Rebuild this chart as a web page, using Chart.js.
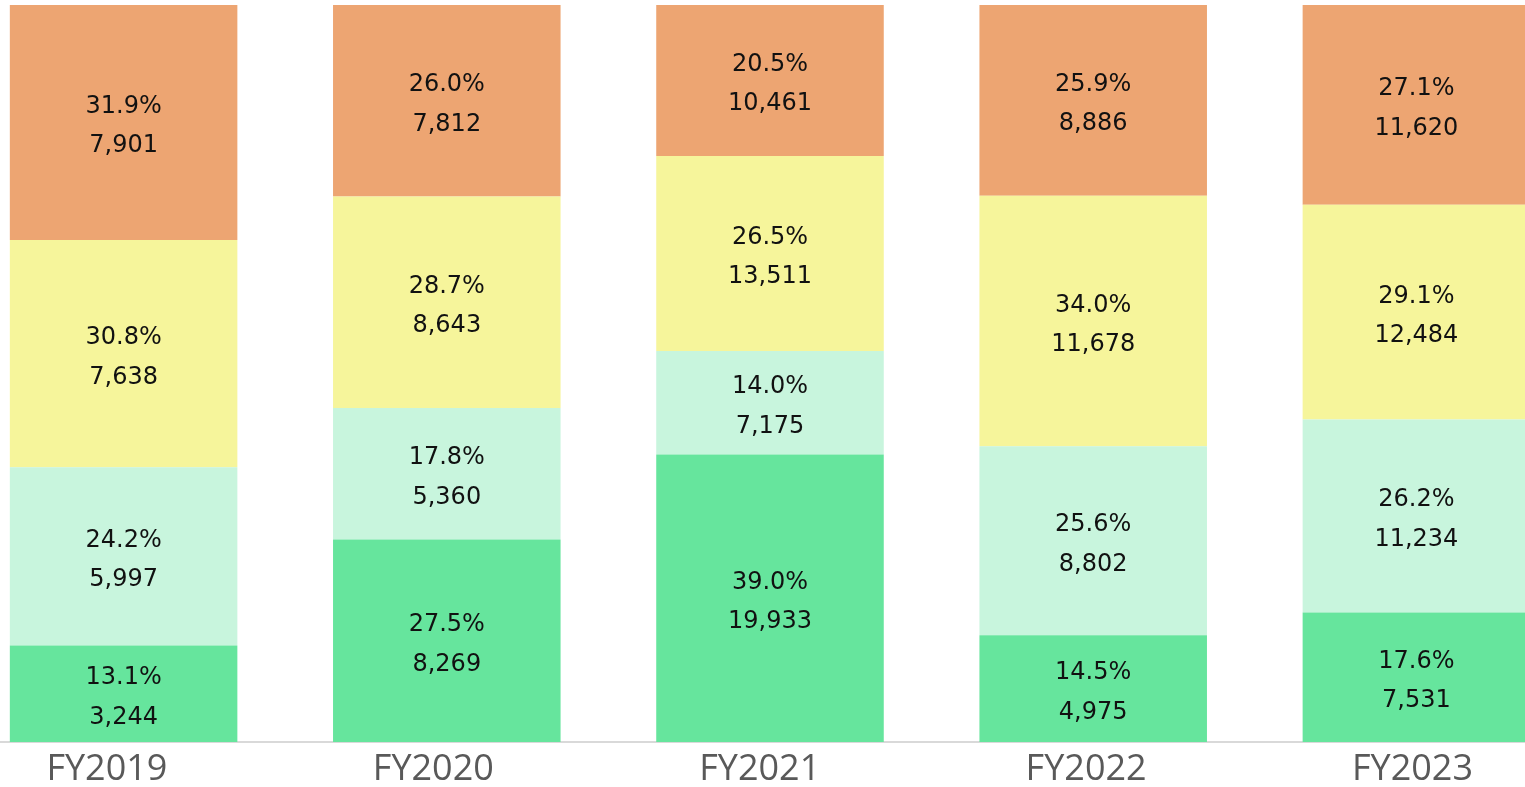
<!DOCTYPE html>
<html>
<head>
<meta charset="utf-8">
<script src="https://cdn.jsdelivr.net/npm/chart.js@4.4.1/dist/chart.umd.min.js"></script>
<style>
    html, body { margin: 0; padding: 0; background: #fff; overflow: hidden; }
    #wrap { position: absolute; left: -38px; top: 0; width: 1616px; height: 787px; }
</style>
</head>
<body>
<div id="wrap"><canvas id="myChart"></canvas></div>
<script>
const labels = ['FY2019', 'FY2020', 'FY2021', 'FY2022', 'FY2023'];

// bottom to top
const seriesA = [3244, 8269, 19933, 4975, 7531];
const seriesB = [5997, 5360, 7175, 8802, 11234];
const seriesC = [7638, 8643, 13511, 11678, 12484];
const seriesD = [7901, 7812, 10461, 8886, 11620];

const colors = ['#66e59d', '#c8f5dd', '#f6f59b', '#eda572'];

const series = [seriesA, seriesB, seriesC, seriesD];
const totals = labels.map((l, i) => series.reduce((s, arr) => s + arr[i], 0));

let data = {
    labels: labels,
    datasets: series.map((arr, k) => ({
        data: arr.map((v, i) => v / totals[i] * 100),
        raw: arr,
        backgroundColor: colors[k],
        borderWidth: 0,
        barPercentage: 0.704,
        categoryPercentage: 1,
        xAxisID: 'x',
        yAxisID: 'y'
    }))
};

const segmentLabels = {
    id: 'segmentLabels',
    afterDatasetsDraw(chart) {
        const ctx = chart.ctx;
        ctx.save();
        ctx.font = '24px "DejaVu Sans"';
        ctx.fillStyle = '#111';
        ctx.textAlign = 'center';
        ctx.textBaseline = 'alphabetic';
        chart.data.datasets.forEach((ds, k) => {
            chart.getDatasetMeta(k).data.forEach((bar, i) => {
                const mid = (bar.y + bar.base) / 2;
                ctx.fillText(ds.data[i].toFixed(1) + '%', bar.x, mid - 9.5);
                ctx.fillText(ds.raw[i].toLocaleString('en-US'), bar.x, mid + 30);
            });
        });
        ctx.restore();
    }
};

let config = {
    type: 'bar',
    data: data,
    options: {
        responsive: true,
        maintainAspectRatio: false,
        animation: false,
        layout: { padding: { top: 5, left: 0, right: 0, bottom: 0 } },
        plugins: {
            legend: { display: false },
            tooltip: { enabled: false }
        },
        scales: {
            x: {
                type: 'category',
                stacked: true,
                display: false
            },
            x2: {
                type: 'linear',
                axis: 'x',
                position: 'bottom',
                offset: false,
                bounds: 'data',
                min: -0.444,
                max: 4.507,
                afterBuildTicks: (axis) => {
                    axis.ticks = labels.map((l, i) => ({ value: i }));
                },
                afterFit: (axis) => {
                    axis.height = 45;
                },
                grid: { display: false, drawTicks: false, offset: false },
                border: { display: true, color: '#d9d9d9', width: 2 },
                ticks: {
                    autoSkip: false,
                    maxRotation: 0,
                    padding: 10,
                    color: '#595959',
                    font: { family: '"Open Sans"', size: 36, lineHeight: 1.0 },
                    callback: (v) => labels[v]
                }
            },
            y: {
                stacked: true,
                min: 0,
                max: 100,
                display: false
            }
        }
    },
    plugins: [segmentLabels]
};

let myChart = new Chart(
    document.getElementById('myChart'),
    config,
);
</script>
</body>
</html>
